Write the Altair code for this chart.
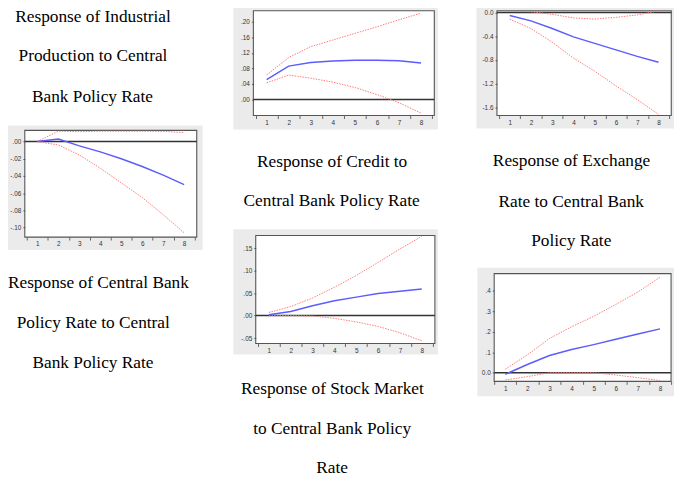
import altair as alt
import pandas as pd

# ---------------- data ----------------
STEPS = [1, 2, 3, 4, 5, 6, 7, 8]

ip_resp = [0.000, 0.003, -0.005, -0.012, -0.020, -0.029, -0.039, -0.050]
ip_hi = [0.000, 0.012, 0.0115, 0.012, 0.012, 0.012, 0.0118, 0.0105]
ip_lo = [0.000, -0.004, -0.0155, -0.031, -0.048, -0.065, -0.085, -0.106]

cr_resp = [0.051, 0.086, 0.095, 0.099, 0.101, 0.101, 0.100, 0.094]
cr_hi = [0.063, 0.108, 0.136, 0.153, 0.170, 0.187, 0.205, 0.222]
cr_lo = [0.043, 0.063, 0.055, 0.045, 0.031, 0.013, -0.008, -0.035]

ex_resp = [-0.05, -0.14, -0.27, -0.41, -0.52, -0.63, -0.74, -0.84]
ex_hi = [0.02, 0.015, -0.03, -0.09, -0.11, -0.08, -0.04, 0.03]
ex_lo = [-0.11, -0.27, -0.50, -0.77, -0.99, -1.24, -1.47, -1.72]

st_resp = [0.002, 0.009, 0.022, 0.033, 0.041, 0.049, 0.054, 0.059]
st_hi = [0.007, 0.020, 0.039, 0.063, 0.089, 0.118, 0.148, 0.176]
st_lo = [0.000, 0.000, -0.001, -0.006, -0.014, -0.024, -0.038, -0.056]

cb_resp = [-0.008, 0.040, 0.084, 0.113, 0.137, 0.163, 0.189, 0.214]
cb_hi = [0.017, 0.087, 0.167, 0.224, 0.275, 0.333, 0.394, 0.465]
cb_lo = [-0.035, -0.019, 0.000, 0.000, 0.000, -0.011, -0.024, -0.038]

ip_ticks = [0.0, -0.02, -0.04, -0.06, -0.08, -0.10]
cr_ticks = [0.0, 0.04, 0.08, 0.12, 0.16, 0.20]
ex_ticks = [0.0, -0.4, -0.8, -1.2, -1.6]
st_ticks = [-0.05, 0.0, 0.05, 0.10, 0.15]
cb_ticks = [0.0, 0.1, 0.2, 0.3, 0.4]

cap_ip = ["Response of Industrial", "Production to Central", "Bank Policy Rate"]
cap_cb = ["Response of Central Bank", "Policy Rate to Central", "Bank Policy Rate"]
cap_cr = ["Response of Credit to", "Central Bank Policy Rate"]
cap_ex = ["Response of Exchange", "Rate to Central Bank", "Policy Rate"]
cap_st = ["Response of Stock Market", "to Central Bank Policy", "Rate"]

# ---------------- layout / style ----------------
M = 8            # page margin
W, H = 677, 475  # drawing size
GRAY = "#ebebeb"
BLUE = "#5c5cff"
RED = "#ff7a7a"
FRAME = "#555555"
ZERO = "#333333"

FMT2 = "(datum.value < -1e-9 ? '-' : '') + replace(format(abs(datum.value), '.2f'), '0.', '.')"
FMT1 = "(datum.value < -1e-9 ? '-' : '') + format(abs(datum.value), '.1f')"
FMT1B = "abs(datum.value) < 1e-9 ? '0.0' : replace(format(datum.value, '.1f'), '0.', '.')"

panels = [
    dict(resp=ip_resp, hi=ip_hi, lo=ip_lo, ticks=ip_ticks, fmt=FMT2,
         xdom=[0.4, 8.6], ydom=[-0.111, 0.013],
         box=(25, 129, 199, 237), pad=(-17, -5, 6, 13)),
    dict(resp=cr_resp, hi=cr_hi, lo=cr_lo, ticks=cr_ticks, fmt=FMT2,
         xdom=[0.4, 8.6], ydom=[-0.041, 0.228],
         box=(256.3, 8, 439.4, 114), pad=(-20.3, -5, 3.6, 14)),
    dict(resp=ex_resp, hi=ex_hi, lo=ex_lo, ticks=ex_ticks, fmt=FMT1,
         xdom=[0.4, 8.6], ydom=[-1.74, 0.03],
         box=(502.8, 8, 679.2, 114), pad=(-20.8, -6, 2.8, 13)),
    dict(resp=st_resp, hi=st_hi, lo=st_lo, ticks=st_ticks, fmt=FMT2,
         xdom=[0.4, 8.6], ydom=[-0.062, 0.178],
         box=(258.7, 235.3, 440, 344.7), pad=(-22.7, -6.3, 3, 11)),
    dict(resp=cb_resp, hi=cb_hi, lo=cb_lo, ticks=cb_ticks, fmt=FMT1B,
         xdom=[0.5, 8.5], ydom=[-0.042, 0.483],
         box=(500, 274, 679, 383), pad=(-17, -6, 3, 15)),
]

captions = [
    (cap_ip, [(94, 14.5), (94, 53.3), (93.5, 95)]),
    (cap_cb, [(99.5, 283.3), (94.3, 324), (94, 364)]),
    (cap_cr, [(336, 160.7), (335.5, 201)]),
    (cap_ex, [(578.3, 160), (578, 201.7), (578, 240.7)]),
    (cap_st, [(336.3, 390.7), (336, 431.7), (336, 471)]),
]

one = pd.DataFrame({"k": [0]})


def build_panel(p):
    df = pd.DataFrame({"step": STEPS, "resp": p["resp"], "hi": p["hi"], "lo": p["lo"]})
    l, t, r, b = [v - M for v in p["box"]]
    t = max(t, 0)
    x0, x1 = p["xdom"]
    y0, y1 = p["ydom"]
    step = (r - l) / (x1 - x0)
    xs = alt.Scale(domain=[x0, x1], range=[l, r], nice=False, zero=False)
    ys = alt.Scale(domain=[y0, y1], range=[b, t], nice=False, zero=False)
    xax = alt.Axis(orient="bottom", offset=-(H - b), title=None, grid=False, domain=False,
                   values=[k + 0.5 for k in range(9)],
                   labelExpr="datum.value < 8 ? format(datum.value + 0.5, 'd') : ''",
                   labelOffset=step / 2, labelFlush=False, labelOverlap=False,
                   tickSize=3, tickColor="#444444", tickWidth=0.8,
                   labelFont="Liberation Sans", labelFontSize=6.5, labelColor="#333333",
                   labelPadding=1, zindex=1)
    yax = alt.Axis(orient="left", offset=-l, title=None, grid=False, domain=False,
                   values=p["ticks"], labelExpr=p["fmt"], labelFlush=False, labelOverlap=False,
                   tickSize=2, tickColor="#444444", tickWidth=0.8,
                   labelFont="Liberation Sans", labelFontSize=6.5, labelColor="#333333",
                   labelPadding=2, zindex=1)

    def X(**kw):
        return alt.X(scale=xs, axis=xax, type="quantitative", **kw)

    def Y(**kw):
        return alt.Y(scale=ys, axis=yax, type="quantitative", **kw)

    pl, pt, pr, pb = p["pad"]
    gray = alt.Chart(one).mark_rect(
        fill=GRAY, xOffset=pl, x2Offset=pr, yOffset=pb, y2Offset=pt
    ).encode(x=X(datum=x0), x2=alt.X2(datum=x1), y=Y(datum=y0), y2=alt.Y2(datum=y1))
    frame = alt.Chart(one).mark_rect(fill="white", stroke=FRAME, strokeWidth=1.1).encode(
        x=X(datum=x0), x2=alt.X2(datum=x1), y=Y(datum=y0), y2=alt.Y2(datum=y1))
    zero = alt.Chart(one).mark_rule(color=ZERO, strokeWidth=1.5).encode(
        x=X(datum=x0), x2=alt.X2(datum=x1), y=Y(datum=0))
    base = alt.Chart(df)
    hi = base.mark_line(color=RED, strokeWidth=1, strokeDash=[1.5, 1.2]).encode(
        x=X(field="step"), y=Y(field="hi"))
    lo = base.mark_line(color=RED, strokeWidth=1, strokeDash=[1.5, 1.2]).encode(
        x=X(field="step"), y=Y(field="lo"))
    blue = base.mark_line(color=BLUE, strokeWidth=1.5).encode(
        x=X(field="step"), y=Y(field="resp"))
    return alt.layer(gray, frame, zero, hi, lo, blue)


layers = [build_panel(p) for p in panels]

for lines, pos in captions:
    for txt, (px, py) in zip(lines, pos):
        layers.append(
            alt.Chart(one).mark_text(font="Liberation Serif", fontSize=17.5, color="black",
                                     align="center", baseline="middle").encode(
                x=alt.value(px - M), y=alt.value(py - M), text=alt.value(txt))
        )

chart = alt.layer(*layers).resolve_scale(x="independent", y="independent").properties(
    width=W, height=H, autosize=alt.AutoSizeParams(type="none"), padding=0
).configure_view(strokeWidth=0)

chart.save("out.html", embed_options={"renderer": "svg", "actions": False})
